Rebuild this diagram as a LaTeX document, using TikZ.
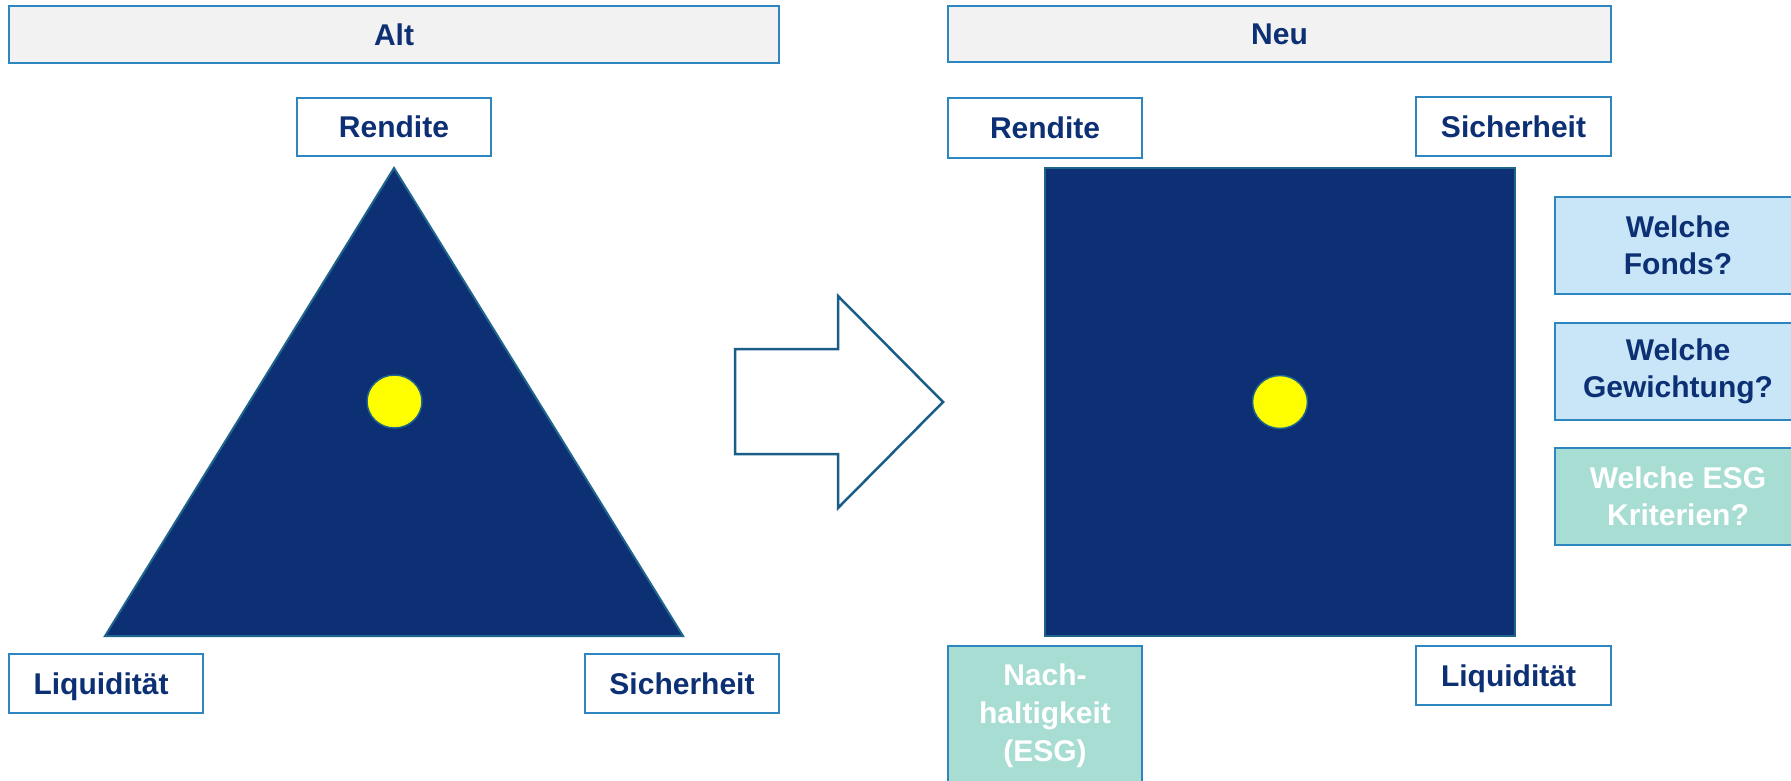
\documentclass[tikz,border=0pt]{standalone}
\usepackage{fontspec}
\setmainfont{Liberation Sans}
\usetikzlibrary{shapes.geometric}
\definecolor{navy}{RGB}{12,48,115}
\definecolor{boxblue}{RGB}{46,134,193}
\definecolor{shapeedge}{RGB}{31,100,140}
\definecolor{arrowedge}{RGB}{26,94,136}
\definecolor{headfill}{RGB}{242,242,242}
\definecolor{lightblue}{RGB}{200,230,247}
\definecolor{mint}{RGB}{168,221,212}
\definecolor{dotyellow}{RGB}{255,255,0}
\tikzset{
  lbl/.style={draw=boxblue, line width=2pt, fill=white, text=navy, inner sep=0pt,
    font=\fontsize{30}{37}\selectfont\bfseries, align=center},
  oneline/.style={lbl, text height=21.5pt, text depth=0pt},
  head/.style={oneline, fill=headfill},
  qbox/.style={lbl, fill=lightblue, minimum width=246pt, minimum height=97pt},
  esgbox/.style={lbl, fill=mint, text=white},
  bigshape/.style={fill=navy, draw=shapeedge, line width=2pt, line join=miter},
  dot/.style={ellipse, fill=dotyellow, draw=shapeedge, line width=1.5pt, inner sep=0pt,
    minimum width=55pt, minimum height=53pt},
  bigarrow/.style={draw=arrowedge, line width=2.5pt, fill=white, line join=miter}
}
\begin{document}
\begin{tikzpicture}[x=1pt,y=-1pt]
\clip (0,0) rectangle (1791,780);
\fill[white] (0,0) rectangle (1791,780);
% headers
\node[head, minimum width=770pt, minimum height=57pt] (alt) at (394,34.5) {Alt};
\node[head, minimum width=663pt, minimum height=56pt] (neu) at (1279.5,34) {Neu};
% left triangle
\coordinate (ta) at (394,168);
\coordinate (tl) at (105,636);
\coordinate (tr) at (683,636);
\draw[bigshape] (ta) -- (tr) -- (tl) -- cycle;
\node[dot] (dotl) at (394.5,401.5) {};
\node[oneline, minimum width=194pt, minimum height=58pt] (rendl) at (394,127) {Rendite};
\node[oneline, minimum width=194pt, minimum height=59pt] (liql) at (106,683.5) {Liquidität\hspace*{10pt}};
\node[oneline, minimum width=194pt, minimum height=59pt] (sichl) at (682,683.5) {Sicherheit};
% arrow
\draw[bigarrow] (735,349) -- (838,349) -- (838,296) -- (943,402) -- (838,508) -- (838,454) -- (735,454) -- cycle;
% right square
\coordinate (sq1) at (1045,168);
\coordinate (sq2) at (1515,636);
\draw[bigshape] (sq1) rectangle (sq2);
\node[dot] (dotr) at (1280,402) {};
\node[oneline, minimum width=194pt, minimum height=60pt] (rendr) at (1045,128) {Rendite};
\node[oneline, minimum width=195pt, minimum height=59pt] (sichr) at (1513.5,126.5) {Sicherheit};
\node[oneline, minimum width=195pt, minimum height=59pt] (liqr) at (1513.5,675.5) {Liquidität\hspace*{10pt}};
\node[esgbox, font=\fontsize{30}{38}\selectfont\bfseries, minimum width=194pt, minimum height=140pt] (nach) at (1045,716) {Nach-\\haltigkeit\\(ESG)};
% question boxes
\node[qbox] (fonds) at (1678,245.5) {Welche\\Fonds?};
\node[qbox] (gew) at (1678,371.5) {Welche\\Gewichtung?};
\node[qbox, esgbox] (krit) at (1678,496.5) {Welche ESG\\Kriterien?};
\end{tikzpicture}
\end{document}
